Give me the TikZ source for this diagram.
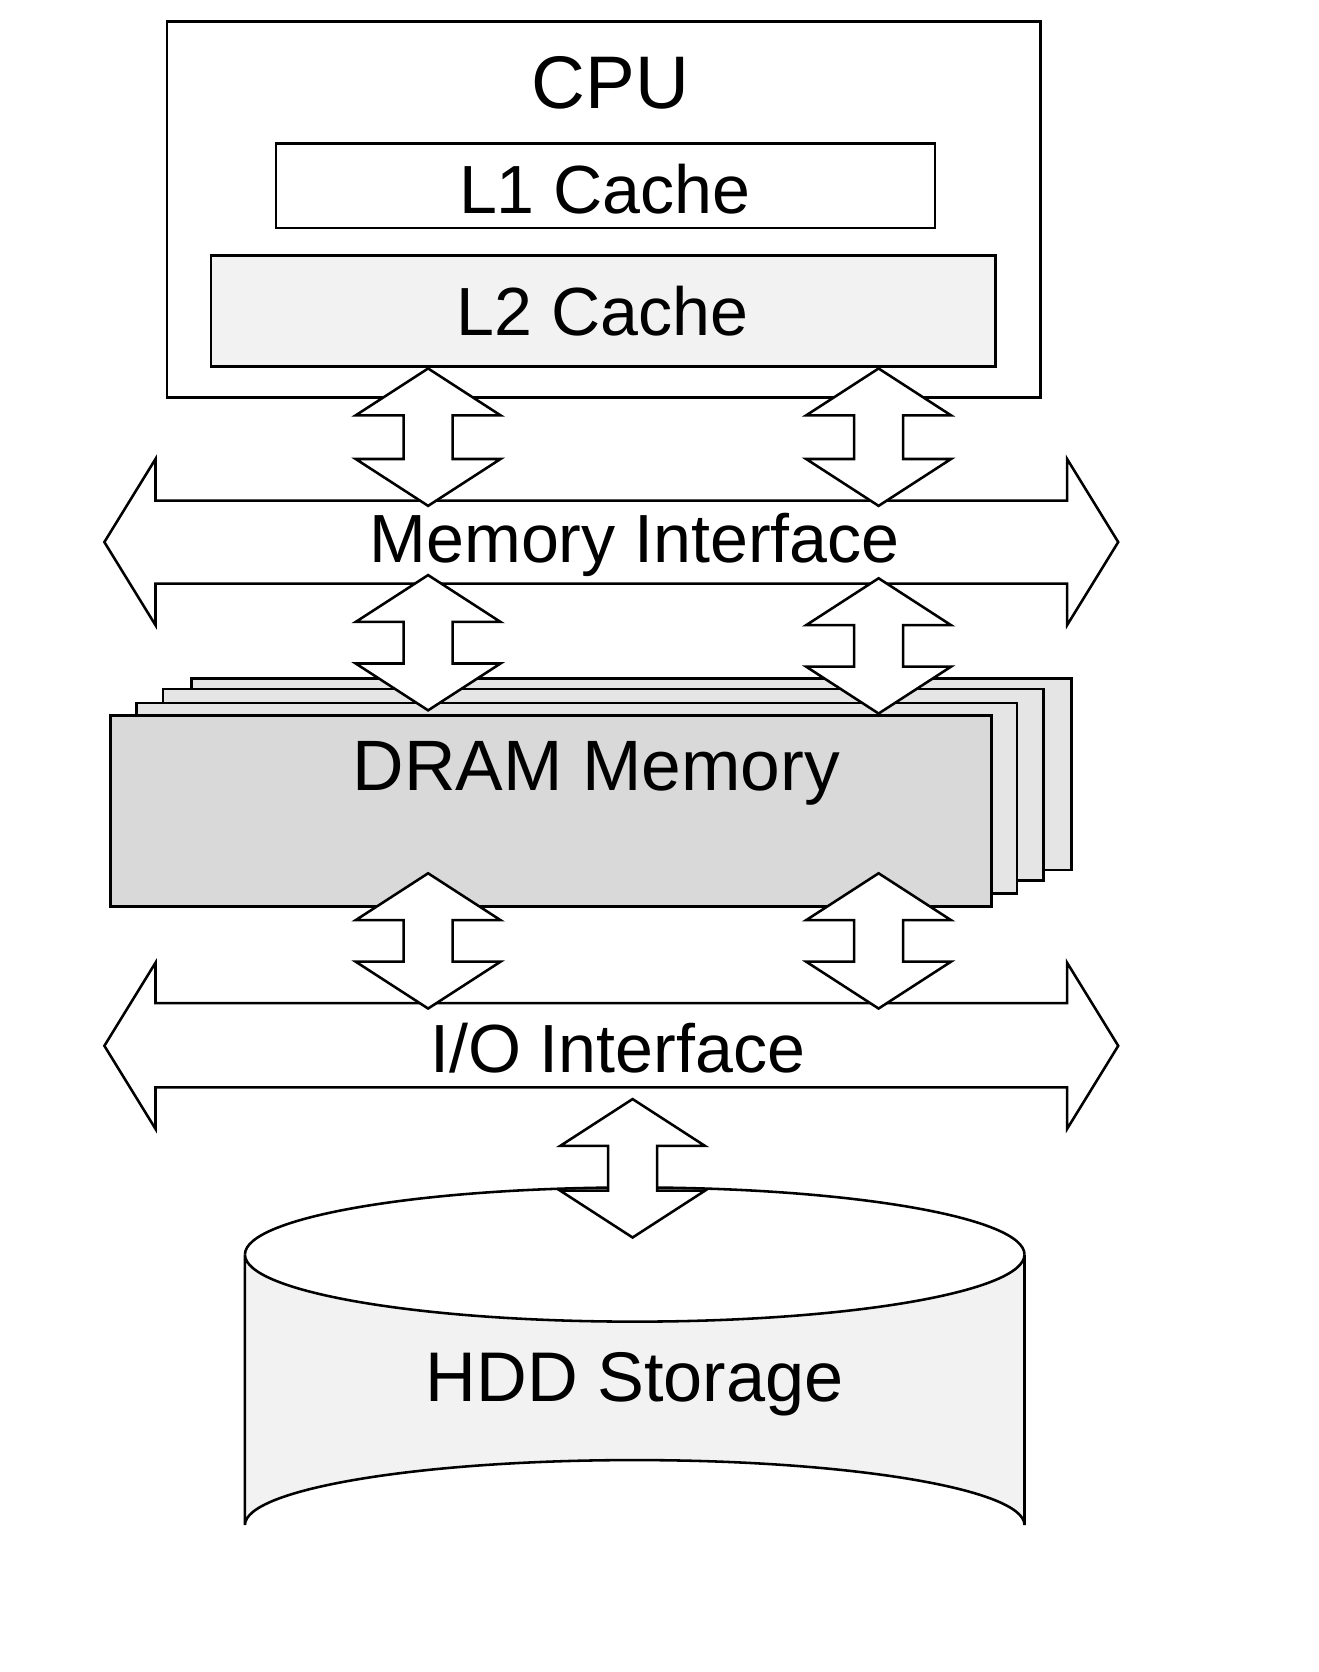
\documentclass[tikz,border=0pt]{standalone}
\usepackage{fontspec}
\setmainfont{Liberation Sans}
\newcommand{\myvarrow}[3]{% x, ytop, ybottom
 \draw[shp,fill=white] (#1,#2) -- ++(68,44) -- ++(-45,0) -- (#1+23,#3-44) -- ++(45,0) -- (#1,#3) -- ++(-68,-44) -- ++(45,0) -- (#1-23,#2+44) -- ++(-45,0) -- cycle;}
\newcommand{\myharrow}[3]{% ycenter, shaft top, shaft bottom
 \draw[shp,fill=white] (98,#1) -- (146,#1-78) -- (146,#2) -- (1002,#2) -- (1002,#1-78) -- (1050,#1) -- (1002,#1+78) -- (1002,#3) -- (146,#3) -- (146,#1+78) -- cycle;}
\begin{document}
\begin{tikzpicture}[x=1pt,y=-1pt,shp/.style={draw=black,line width=2.4pt,line join=miter},
 lbl/.style={font=\fontsize{64}{70}\selectfont,inner sep=0pt}]
\useasboundingbox (0,0) rectangle (1238,1570);
% CPU
\draw[shp,fill=white] (157,20) rectangle (977,373);
\node[lbl,font=\fontsize{70}{76}\selectfont] (cpu) at (573,78) {CPU};
\draw[shp,fill=white] (259,135) rectangle (878,214);
\node[lbl] (l1) at (568,178) {L1 Cache};
\draw[shp,fill=black!5] (198,240) rectangle (935,344);
\node[lbl] (l2) at (566,292) {L2 Cache};
% Memory interface
\myharrow{509}{470}{548}
\node[lbl] (mi) at (596,512) {Memory Interface};
\myvarrow{402}{346}{475}
\myvarrow{825}{346}{475}
% DRAM stack
\draw[shp,fill=black!10] (180,637) rectangle (1006,817);
\draw[shp,fill=black!10] (153,647) rectangle (980,827);
\draw[shp,fill=black!10] (128,660) rectangle (955,839);
\draw[shp,fill=black!15] (104,672) rectangle (931,851);
\node[lbl,font=\fontsize{67}{72}\selectfont] (dram) at (560,726) {DRAM Memory};
\myvarrow{402}{540}{667}
\myvarrow{825}{543}{670}
% I/O interface
\myharrow{982}{942}{1021}
\node[lbl] (io) at (580,984) {I/O Interface};
\myvarrow{402}{820}{947}
\myvarrow{825}{820}{947}
% HDD
\draw[shp,fill=black!5] (230,1178) -- (230,1432) arc[start angle=180,end angle=360,x radius=366,y radius=61] -- (962,1178) arc[start angle=0,end angle=180,x radius=366,y radius=63] -- cycle;
\draw[shp] (230,1178) arc[start angle=180,end angle=360,x radius=366,y radius=63];
\node[lbl,font=\fontsize{66}{72}\selectfont] (hdd) at (596,1300) {HDD Storage};
\myvarrow{594}{1032}{1162}
\end{tikzpicture}
\end{document}
